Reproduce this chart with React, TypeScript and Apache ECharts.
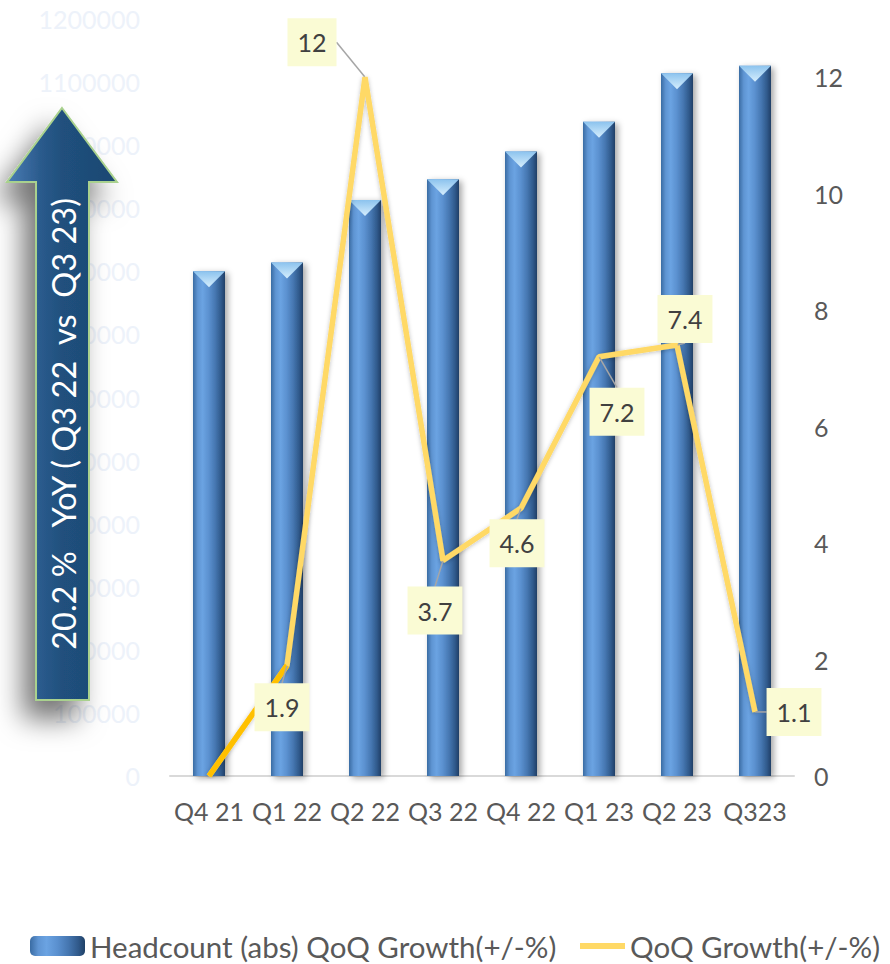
import React, { useEffect, useRef } from "react";
import * as echarts from "echarts";

const categories = ["Q4 21", "Q1 22", "Q2 22", "Q3 22", "Q4 22", "Q1 23", "Q2 23", "Q323"];
const headcount = [800000, 814000, 913000, 946000, 990000, 1037000, 1114000, 1126000];
const qoqGrowth = [0, 1.9, 12, 3.7, 4.6, 7.2, 7.4, 1.1];
const leftTicks = { min: 0, max: 1200000, interval: 100000 };
const rightTicks = { min: 0, max: 13, interval: 2 };
const barName = "Headcount (abs) QoQ Growth(+/-%)";
const lineName = "QoQ Growth(+/-%)";
const arrowText = "20.2 %   YoY ( Q3 22  vs  Q3 23)";
// label offsets (dx, dy) from each point
const labelOffsets = [
  [0, 0],
  [-5, 42],
  [-53, -35],
  [-8, 50],
  [-4, 35],
  [18, 55],
  [8, -26],
  [39, 0],
];

const FONT = "Lato, 'Open Sans', sans-serif";

export default function App() {
  const ref = useRef<HTMLDivElement>(null);
  useEffect(() => {
    if (!ref.current) return;
    const chart = echarts.init(ref.current, null, { renderer: "svg" });
    const barGradient = new echarts.graphic.LinearGradient(0, 0, 1, 0, [
      { offset: 0, color: "#3a6ca3" },
      { offset: 0.15, color: "#5f95d3" },
      { offset: 0.3, color: "#6ba3e2" },
      { offset: 0.5, color: "#5a90cf" },
      { offset: 0.7, color: "#4576b0" },
      { offset: 0.88, color: "#30598a" },
      { offset: 1, color: "#1f4066" },
    ]);
    const lineData = qoqGrowth.map((v, i) =>
      i === 0 ? { value: v, label: { show: false }, labelLine: { show: false } } : v
    );
    chart.setOption({
      animation: false,
      textStyle: { fontFamily: FONT },
      grid: { left: 170, right: 96, top: 19, bottom: 964 - 776, containLabel: false },
      legend: [
        {
          data: [barName],
          left: 25,
          top: 926,
          itemWidth: 55,
          itemHeight: 20,
          itemGap: 5,
          textStyle: { fontSize: 29.5, color: "#595959", fontFamily: FONT },
        },
        {
          data: [{ name: lineName, icon: "rect" }],
          left: 575,
          top: 926,
          itemWidth: 45,
          itemHeight: 6,
          textStyle: { fontSize: 29.5, color: "#595959", fontFamily: FONT },
        },
      ],
      xAxis: {
        type: "category",
        data: categories,
        axisTick: { show: false },
        axisLine: { show: true, lineStyle: { color: "#d9d9d9", width: 2 } },
        axisLabel: { fontSize: 25, color: "#595959", margin: 22, interval: 0, fontFamily: FONT },
      },
      yAxis: [
        {
          type: "value",
          min: leftTicks.min,
          max: leftTicks.max,
          interval: leftTicks.interval,
          splitLine: { show: false },
          axisLine: { show: false },
          axisLabel: {
            fontSize: 25,
            color: "#edf2fa",
            margin: 30,
            fontFamily: FONT,
            formatter: (v: number) => String(v),
          },
        },
        {
          type: "value",
          min: rightTicks.min,
          max: rightTicks.max,
          interval: rightTicks.interval,
          splitLine: { show: false },
          axisLine: { show: false },
          axisLabel: {
            fontSize: 25,
            color: "#595959",
            margin: 20,
            fontFamily: FONT,
            formatter: (v: number) => (v % 2 === 0 ? String(v) : ""),
          },
        },
      ],
      series: [
        {
          name: barName,
          type: "bar",
          data: headcount,
          barWidth: 32,
          itemStyle: {
            color: barGradient,
            shadowBlur: 6,
            shadowColor: "rgba(0,0,0,0.35)",
            shadowOffsetX: 3,
            shadowOffsetY: 2,
          },
          z: 2,
        },
        {
          name: "barTop",
          type: "pictorialBar",
          data: headcount,
          symbol: "triangle",
          symbolRotate: 180,
          symbolSize: [32, 16],
          symbolPosition: "end",
          barWidth: 32,
          itemStyle: {
            color: new echarts.graphic.LinearGradient(0, 0, 0, 1, [
              { offset: 0, color: "#d6eefd" },
              { offset: 1, color: "#8cc3ee" },
            ]),
          },
          z: 3,
          silent: true,
        },
        {
          name: lineName,
          type: "line",
          yAxisIndex: 1,
          data: lineData,
          symbol: "circle",
          symbolSize: 1,
          showSymbol: true,
          lineStyle: {
            color: "#ffd966",
            width: 5.5,
            shadowBlur: 4,
            shadowColor: "rgba(0,0,0,0.25)",
            shadowOffsetY: 1,
          },
          itemStyle: { color: "#ffd966" },
          z: 5,
          label: {
            show: true,
            position: "inside",
            fontSize: 25,
            color: "#404040",
            fontFamily: FONT,
            backgroundColor: "#fafbd4",
            padding: [9, 10, 9, 10],
            lineHeight: 30,
          },
          labelLayout: (p: any) => ({
            dx: labelOffsets[p.dataIndex][0],
            dy: labelOffsets[p.dataIndex][1],
          }),
          labelLine: { show: true, lineStyle: { color: "#a6a6a6", width: 1.5 } },
        },
        {
          name: "firstSegment",
          type: "line",
          yAxisIndex: 1,
          data: qoqGrowth.map((v, i) => (i <= 1 ? v : "-")),
          symbol: "none",
          lineStyle: { color: "#ffc000", width: 5.5 },
          z: 5,
          silent: true,
        },
      ],
      graphic: [
        {
          type: "polygon",
          shape: {
            points: [
              [62, 108],
              [117, 182],
              [89, 182],
              [89, 700],
              [36, 700],
              [36, 182],
              [7, 182],
            ],
          },
          style: {
            fill: new echarts.graphic.LinearGradient(0, 0, 1, 0, [
              { offset: 0, color: "#4a7db5" },
              { offset: 0.3, color: "#2b5b8d" },
              { offset: 0.5, color: "#20507d" },
              { offset: 1, color: "#1d4872" },
            ]),
            stroke: "#a9d18e",
            lineWidth: 2,
            shadowBlur: 28,
            shadowColor: "rgba(0,0,0,0.55)",
            shadowOffsetX: -12,
            shadowOffsetY: 18,
          },
          z: 10,
        },
        {
          type: "text",
          x: 63,
          y: 424,
          rotation: Math.PI / 2,
          style: {
            text: arrowText,
            fill: "#ffffff",
            font: `32.5px ${FONT}`,
            align: "center",
            verticalAlign: "middle",
          },
          z: 11,
        },
      ],
    });
    return () => chart.dispose();
  }, []);
  return (
    <div
      ref={ref}
      style={{ position: "fixed", left: 0, top: 0, width: 890, height: 964, background: "#fff" }}
    />
  );
}
